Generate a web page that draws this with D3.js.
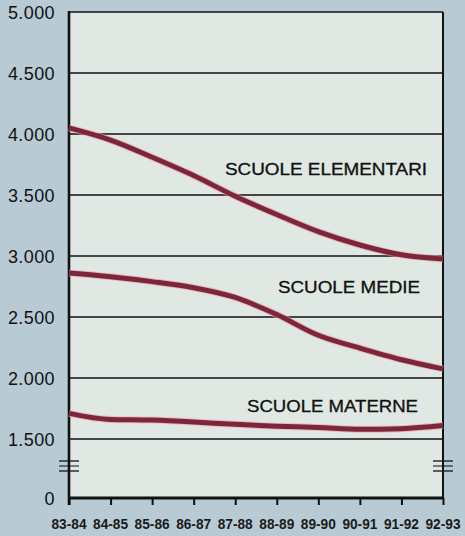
<!DOCTYPE html>
<html>
<head>
<meta charset="utf-8">
<script src="https://cdn.jsdelivr.net/npm/d3@7"></script>
<style>
  body { margin: 0; background: #b8cad4; }
  svg { display: block; }
</style>
</head>
<body>
<svg id="chart" width="465" height="536"></svg>
<script>
// school years on x
const years = ["83-84", "84-85", "85-86", "86-87", "87-88", "88-89", "89-90", "90-91", "91-92", "92-93"];
const elementari = [4050, 3950, 3810, 3660, 3490, 3340, 3200, 3090, 3010, 2975];
const medie = [2860, 2830, 2790, 2740, 2660, 2520, 2350, 2245, 2150, 2075];
const materne = [1710, 1660, 1655, 1640, 1620, 1605, 1595, 1580, 1585, 1610];
const yTicks = [0, 1500, 2000, 2500, 3000, 3500, 4000, 4500, 5000];
const seriesLabels = ["SCUOLE ELEMENTARI", "SCUOLE MEDIE", "SCUOLE MATERNE"];

const svg = d3.select("#chart");
const plotL = 69, plotR = 443, plotT = 12, plotB = 498;

let x = d3.scalePoint().domain(years).range([plotL, plotR]);
// broken axis: 0 sits just below 1.500
let y = d3.scaleLinear().domain([0, 1500, 5000]).range([plotB, 439, plotT]);

svg.append("rect")
  .attr("x", plotL).attr("y", plotT)
  .attr("width", plotR - plotL).attr("height", plotB - plotT)
  .attr("fill", "#dfe8e2");

// gridlines
svg.append("g")
  .selectAll("line")
  .data(yTicks.filter(d => d > 0))
  .enter().append("line")
  .attr("x1", plotL).attr("x2", plotR)
  .attr("y1", d => y(d)).attr("y2", d => y(d))
  .attr("stroke", "#111").attr("stroke-width", 1.6);

// right frame
svg.append("line")
  .attr("x1", plotR).attr("x2", plotR).attr("y1", plotT).attr("y2", plotB)
  .attr("stroke", "#111").attr("stroke-width", 2);

// y axis labels
svg.append("g")
  .selectAll("text")
  .data(yTicks)
  .enter().append("text")
  .attr("x", 55)
  .attr("y", d => y(d) + 7)
  .attr("text-anchor", "end")
  .attr("font-family", "Liberation Sans, Arial, sans-serif")
  .attr("font-size", 18)
  .attr("letter-spacing", 0.4)
  .attr("fill", "#111")
  .text(d => d === 0 ? "0" : d3.format(",")(d).replace(",", "."));

// x axis with ticks
let xAxis = d3.axisBottom(x).tickSize(7).tickSizeOuter(0).tickFormat("");
let gx = svg.append("g").attr("transform", `translate(0,${plotB})`).call(xAxis);
gx.select(".domain").remove();
gx.selectAll(".tick line").attr("stroke", "#111").attr("stroke-width", 2);

svg.append("g")
  .selectAll("text")
  .data(years)
  .enter().append("text")
  .attr("x", d => x(d) - 17.5)
  .attr("y", 529)
  .attr("textLength", 35)
  .attr("lengthAdjust", "spacingAndGlyphs")
  .attr("font-family", "Liberation Sans Narrow, Arial Narrow, sans-serif")
  .attr("font-size", 15)
  .attr("font-weight", "bold")
  .attr("fill", "#1a1a1a")
  .text(d => d);

// axis lines
svg.append("line")
  .attr("x1", plotL).attr("x2", plotR + 1).attr("y1", plotB).attr("y2", plotB)
  .attr("stroke", "#111").attr("stroke-width", 3);
svg.append("line")
  .attr("x1", plotL).attr("x2", plotL).attr("y1", plotT - 1).attr("y2", plotB + 7)
  .attr("stroke", "#111").attr("stroke-width", 2.6);

// break marks on both vertical axes
[plotL, plotR].forEach(ax => {
  [461, 466, 471].forEach((yy, i) => {
    svg.append("line")
      .attr("x1", ax - 10).attr("x2", ax + 10)
      .attr("y1", yy).attr("y2", yy)
      .attr("stroke", "#111").attr("stroke-width", i === 1 ? 1 : 1.3);
  });
});

// series lines
let line = d3.line()
  .x((d, i) => x(years[i]))
  .y(d => y(d))
  .curve(d3.curveMonotoneX);

[elementari, medie, materne].forEach(s => {
  svg.append("path")
    .datum(s)
    .attr("d", line)
    .attr("fill", "none")
    .attr("stroke", "#e8a0b0")
    .attr("stroke-width", 7)
    .attr("stroke-opacity", 0.6);
  svg.append("path")
    .datum(s)
    .attr("d", line)
    .attr("fill", "none")
    .attr("stroke", "#7e2639")
    .attr("stroke-width", 5);
});

// series labels: x start, baseline, width
const labelPos = [[225, 175, 202], [278, 293, 142], [247, 412, 171]];
svg.append("g")
  .selectAll("text")
  .data(seriesLabels)
  .enter().append("text")
  .attr("x", (d, i) => labelPos[i][0])
  .attr("y", (d, i) => labelPos[i][1])
  .attr("textLength", (d, i) => labelPos[i][2])
  .attr("lengthAdjust", "spacingAndGlyphs")
  .attr("font-family", "Liberation Sans, Arial, sans-serif")
  .attr("font-size", 16)
  .attr("fill", "#111")
  .attr("stroke", "#111")
  .attr("stroke-width", 0.3)
  .text(d => d);
</script>
</body>
</html>
